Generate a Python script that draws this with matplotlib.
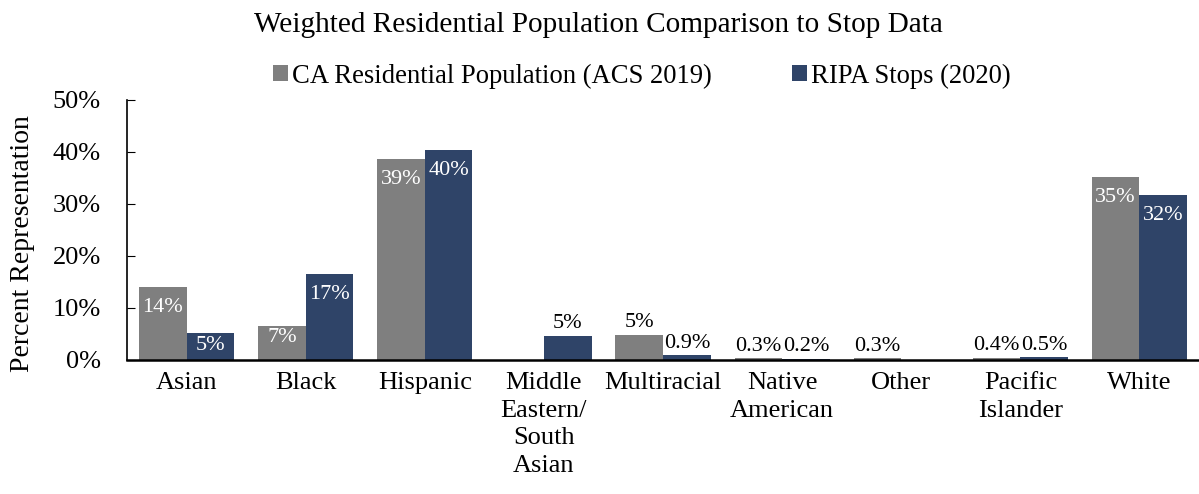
import matplotlib
matplotlib.use('Agg')

import numpy as np
from matplotlib import pyplot as plt

plt.rcParams['font.family'] = ['Liberation Serif', 'DejaVu Serif']

categories = ['Asian', 'Black', 'Hispanic', 'Middle\nEastern/\nSouth\nAsian',
              'Multiracial', 'Native\nAmerican', 'Other', 'Pacific\nIslander', 'White']
acs_2019 = [14.0, 6.6, 38.7, 0.0, 4.8, 0.3, 0.3, 0.4, 35.2]
ripa_2020 = [5.2, 16.6, 40.4, 4.7, 0.9, 0.2, 0.0, 0.5, 31.8]
series_names = ['CA Residential Population (ACS 2019)', 'RIPA Stops (2020)']
colors = ['#7f7f7f', '#2f4468']

fs = 19
x = np.arange(len(categories))
w = 0.4

fig, ax = plt.subplots(figsize=(11.99, 4.94), dpi=100)
fig.subplots_adjust(left=0.106, right=1.0, top=0.7976, bottom=0.2713)

for k, (vals, name, c) in enumerate(zip([acs_2019, ripa_2020], series_names, colors)):
    pos = x - w / 2 + k * w
    ax.bar(pos, vals, w, color=c, label=name)
    for xp, v in zip(pos, vals):
        if v <= 0:
            continue
        txt = '%.1f%%' % v if v < 1 else '%d%%' % round(v)
        if v >= 5:
            off = -8 if v >= 10 else -2
            ax.annotate(txt, (xp, v), xytext=(0, off), textcoords='offset points',
                        ha='center', va='top', color='white', fontsize=16)
        else:
            ax.annotate(txt, (xp, v), xytext=(0, 2), textcoords='offset points',
                        ha='center', va='bottom', color='black', fontsize=16)

ax.set_xlim(-0.5, len(categories) - 0.5)
ax.set_ylim(0, 50)
ax.set_yticks(np.arange(0, 51, 10))
ax.set_yticklabels(['%d%%' % t for t in np.arange(0, 51, 10)], fontsize=fs)
ax.set_xticks(x)
ax.set_xticklabels(categories, fontsize=fs, linespacing=1.32)
ax.tick_params(axis='x', length=0, pad=9)
ax.tick_params(axis='y', length=6, direction='in', pad=19)
ax.spines['top'].set_visible(False)
ax.spines['right'].set_visible(False)
ax.spines['bottom'].set_linewidth(1.8)
ax.spines['left'].set_linewidth(1.2)

fig.text(23 / 1199, 1 - 244 / 494, 'Percent Representation', rotation=90,
         ha='center', va='center', fontsize=20)
fig.text(598 / 1199, 1 - 25 / 494, 'Weighted Residential Population Comparison to Stop Data',
         ha='center', va='center', fontsize=21.1)
fig.legend(loc='center', bbox_to_anchor=(642 / 1199, 1 - 76 / 494), ncol=2, frameon=False,
           fontsize=19.2, handlelength=0.57, handleheight=0.57, handletextpad=0.15,
           columnspacing=3.0, borderpad=0)

plt.savefig('out.png')
